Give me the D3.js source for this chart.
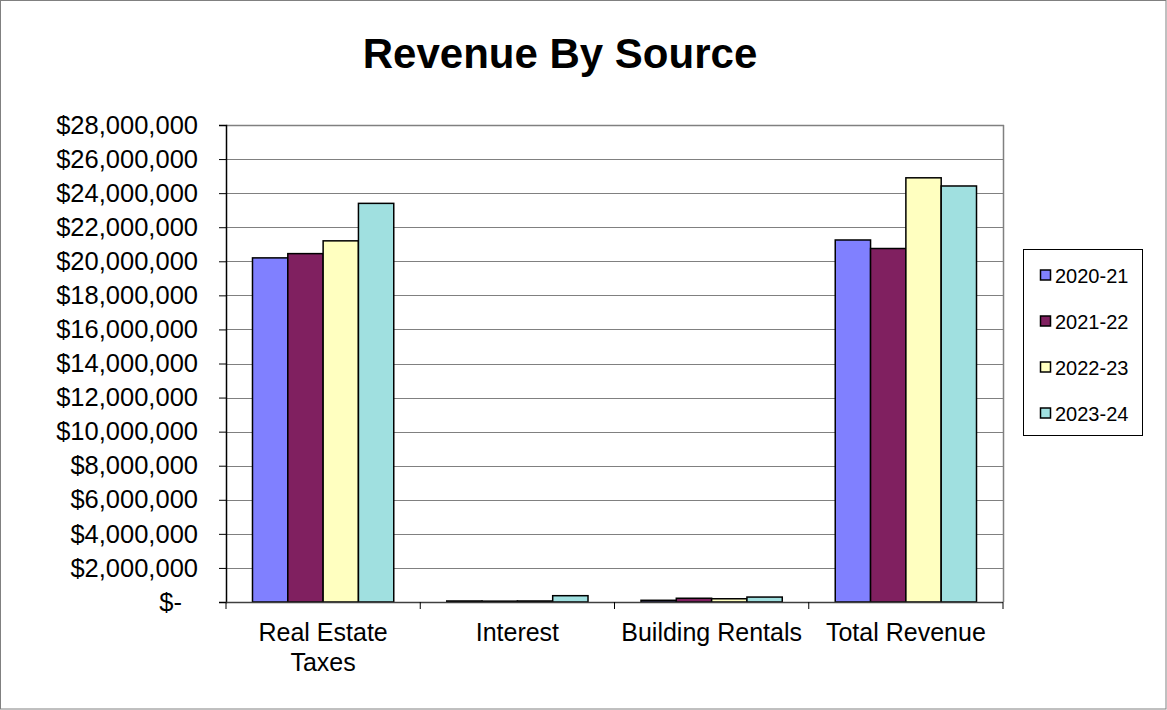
<!DOCTYPE html>
<html>
<head>
<meta charset="utf-8">
<script src="https://cdn.jsdelivr.net/npm/d3@7"></script>
<style>
  html, body { margin: 0; padding: 0; background: #fff; }
  svg { display: block; font-family: Arial, "Liberation Sans", sans-serif; }
</style>
</head>
<body>
<svg id="chart" width="1167" height="710"></svg>
<script>
// Revenue by source, four fiscal years
const categories = ["Real Estate Taxes", "Interest", "Building Rentals", "Total Revenue"];
const categoryLines = [["Real Estate", "Taxes"], ["Interest"], ["Building Rentals"], ["Total Revenue"]];
const years = ["2020-21", "2021-22", "2022-23", "2023-24"];
const values2020 = [20200000, 60000, 100000, 21250000];
const values2021 = [20450000, 50000, 220000, 20750000];
const values2022 = [21200000, 60000, 190000, 24900000];
const values2023 = [23400000, 370000, 290000, 24420000];
const seriesValues = [values2020, values2021, values2022, values2023];
const colors = ["#8080FF", "#802060", "#FFFFC0", "#A0E0E0"];
const yTicks = [0, 2000000, 4000000, 6000000, 8000000, 10000000, 12000000, 14000000,
  16000000, 18000000, 20000000, 22000000, 24000000, 26000000, 28000000];

const svg = d3.select("#chart");
const W = 1167, H = 710;
const plot = { left: 226, right: 1003, top: 125, bottom: 602 };

// outer frame
svg.append("rect").attr("x", 0.5).attr("y", 0.5).attr("width", W - 1.5).attr("height", H - 1.5)
  .attr("fill", "#fff").attr("stroke", "#808080").attr("stroke-width", 1);

// title
svg.append("text").attr("x", 560).attr("y", 68).attr("text-anchor", "middle")
  .attr("font-size", 42).attr("font-weight", "bold").attr("fill", "#000")
  .text("Revenue By Source");

const x0 = d3.scaleBand().domain(categories).range([plot.left, plot.right]).padding(0);
const x1 = d3.scaleBand().domain(years).range([0, x0.bandwidth()]).paddingInner(0).paddingOuter(0.75);
const y = d3.scaleLinear().domain([0, 28000000]).range([plot.bottom, plot.top]);

// gridlines
svg.append("g").selectAll("line").data(yTicks.filter(d => d > 0)).join("line")
  .attr("x1", plot.left).attr("x2", plot.right)
  .attr("y1", d => Math.round(y(d)) + 0.5).attr("y2", d => Math.round(y(d)) + 0.5)
  .attr("stroke", "#808080").attr("stroke-width", 1);

// plot area right and top border
svg.append("line").attr("x1", plot.right + 0.5).attr("x2", plot.right + 0.5)
  .attr("y1", plot.top).attr("y2", plot.bottom)
  .attr("stroke", "#808080").attr("stroke-width", 1.5);
svg.append("line").attr("x1", plot.left).attr("x2", plot.right + 1)
  .attr("y1", plot.top + 0.5).attr("y2", plot.top + 0.5)
  .attr("stroke", "#808080").attr("stroke-width", 1.5);

// bars
const groups = svg.append("g").selectAll("g").data(categories).join("g")
  .attr("transform", c => `translate(${x0(c)},0)`);
groups.selectAll("rect")
  .data((c, i) => years.map((yr, s) => ({ yr, s, v: seriesValues[s][i] })))
  .join("rect")
  .attr("x", d => x1(d.yr))
  .attr("width", x1.bandwidth())
  .attr("y", d => y(d.v))
  .attr("height", d => y(0) - y(d.v))
  .attr("fill", d => colors[d.s])
  .attr("stroke", "#000").attr("stroke-width", 1.5);

// y axis
const yAxis = d3.axisLeft(y).tickValues(yTicks).tickSize(7).tickPadding(21)
  .tickFormat(d => d === 0 ? "$-" : "$" + d3.format(",")(d));
const ya = svg.append("g").attr("transform", `translate(${plot.left},0)`).call(yAxis);
ya.select(".domain").attr("stroke", "#000").attr("stroke-width", 1.5);
ya.selectAll(".tick line").attr("stroke", "#000");
ya.selectAll(".tick text").attr("font-size", 25.5).attr("fill", "#000")
  .attr("font-family", "Arial, 'Liberation Sans', sans-serif");
ya.selectAll(".tick text").filter(d => d === 0).attr("dx", -16);

// x axis
const xa = svg.append("g").attr("transform", `translate(0,${plot.bottom})`);
xa.append("line").attr("x1", plot.left).attr("x2", plot.right).attr("y1", 0.5).attr("y2", 0.5)
  .attr("stroke", "#404040").attr("stroke-width", 1.5);
const bounds = categories.map(c => x0(c)).concat([plot.right]);
xa.selectAll("line.tk").data(bounds).join("line").attr("class", "tk")
  .attr("x1", d => d).attr("x2", d => d).attr("y1", 0).attr("y2", 7)
  .attr("stroke", "#000").attr("stroke-width", 1);
xa.selectAll("text").data(categories).join("text")
  .attr("x", c => x0(c) + x0.bandwidth() / 2)
  .attr("y", 39)
  .attr("text-anchor", "middle").attr("font-size", 25).attr("fill", "#000")
  .each(function (c, i) {
    const t = d3.select(this);
    categoryLines[i].forEach((ln, k) => {
      t.append("tspan").attr("x", x0(c) + x0.bandwidth() / 2).attr("dy", k === 0 ? 0 : 30).text(ln);
    });
  });

// legend
const lg = svg.append("g");
lg.append("rect").attr("x", 1023.5).attr("y", 249.5).attr("width", 119).attr("height", 186)
  .attr("fill", "#fff").attr("stroke", "#000").attr("stroke-width", 1);
const rowY = [275, 321, 367, 413];
years.forEach((yr, s) => {
  lg.append("rect").attr("x", 1040.5).attr("y", rowY[s] - 5).attr("width", 10).attr("height", 10)
    .attr("fill", colors[s]).attr("stroke", "#000").attr("stroke-width", 1.5);
  lg.append("text").attr("x", 1055).attr("y", rowY[s] + 7.5).attr("font-size", 20).attr("fill", "#000")
    .text(yr);
});
</script>
</body>
</html>
